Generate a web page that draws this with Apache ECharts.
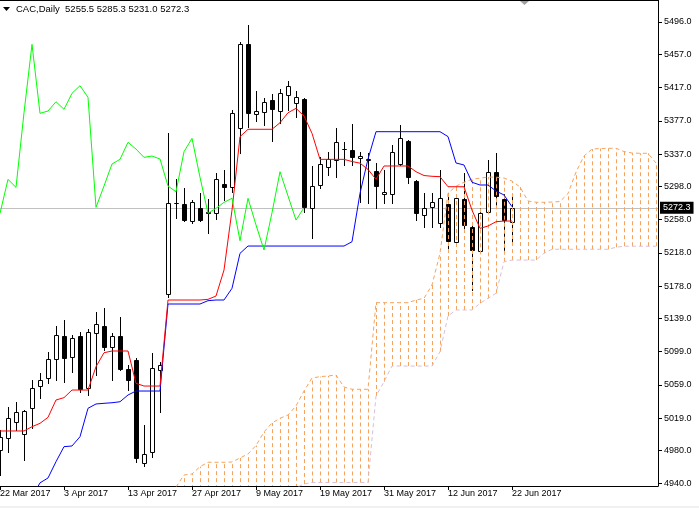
<!DOCTYPE html>
<html><head><meta charset="utf-8">
<script src="https://cdn.jsdelivr.net/npm/echarts@6/dist/echarts.min.js"></script>
<style>html,body{margin:0;padding:0;background:#fff}#c{width:699px;height:508px}</style>
</head><body><div id="c"></div>
<script>
// ---- tick labels ----
const dateLabels = ['22 Mar 2017','3 Apr 2017','13 Apr 2017','27 Apr 2017','9 May 2017','19 May 2017','31 May 2017','12 Jun 2017','22 Jun 2017'];
const dateTickBars = [0,8,16,24,32,40,48,56,64];
const priceTicks = [4940,4980,5019,5059,5099,5139,5178,5218,5258,5298,5337,5377,5417,5457,5496];

// ---- candles (bar index 0 = 22 Mar 2017) ----
const opens = [4980.6,4994.7,5014.7,4999.5,5030.8,5057.6,5066.9,5089.8,5117.6,5092.2,
5117.6,5054.9,5121.1,5129.9,5104.2,5117.9,5077.8,5089.0,4964.6,4978.5,
5076.9,5168.4,5277.6,5276.4,5256.7,5271.6,5267.6,5265.6,5300.9,5296.9,
5368.7,5469.1,5384.8,5387.2,5402.0,5388.8,5408.0,5398.0,5403.6,5271.6,
5299.7,5321.7,5329.8,5342.7,5341.8,5331.8,5330.0,5317.0,5288.5,5288.5,
5325.0,5352.9,5304.8,5263.6,5272.8,5253.6,5276.8,5230.7,5282.5,5249.5,
5220.2,5267.5,5315.7,5282.5,5255.5];
const closes = [4996.6,5018.8,5026.7,5027.5,5054.9,5064.9,5089.8,5118.8,5090.9,5115.1,
5053.7,5122.3,5132.3,5105.0,5117.9,5078.7,5064.9,4970.6,4975.4,5079.0,
5082.9,5277.6,5278.0,5257.5,5278.8,5257.5,5265.6,5306.5,5296.9,5386.7,
5469.1,5386.0,5388.8,5400.0,5390.9,5410.1,5419.3,5405.2,5272.8,5298.5,
5325.0,5330.6,5351.1,5343.0,5333.0,5334.6,5331.0,5298.5,5291.6,5339.8,
5355.9,5309.0,5265.6,5271.6,5278.8,5283.7,5232.6,5283.7,5251.6,5221.4,
5266.3,5315.7,5286.5,5257.5,5272.3];
const lows = [4950.5,4978.5,5004.7,4968.5,5006.7,5042.8,5060.9,5064.9,5062.8,5074.9,
5050.0,5046.8,5070.9,5101.0,5064.9,5077.0,5052.8,4966.5,4961.7,4971.8,
5026.7,5165.2,5259.6,5256.7,5254.0,5256.7,5241.5,5258.4,5281.6,5291.6,
5337.9,5369.9,5377.1,5372.2,5353.0,5374.0,5390.0,5382.0,5267.5,5236.2,
5296.0,5311.7,5309.7,5323.8,5323.8,5279.5,5278.0,5271.6,5277.6,5277.6,
5323.8,5302.0,5257.5,5249.5,5249.5,5249.5,5223.5,5228.6,5243.0,5173.3,
5217.8,5266.0,5273.6,5219.4,5231.0];
const highs = [5004.7,5032.7,5038.7,5028.7,5064.9,5072.9,5098.9,5129.9,5137.0,5119.0,
5123.0,5125.9,5147.1,5151.2,5121.1,5141.1,5083.0,5091.0,5010.7,5097.0,
5087.0,5361.9,5306.5,5295.7,5281.6,5290.4,5282.4,5314.5,5317.7,5390.0,
5472.3,5492.4,5413.3,5404.1,5408.9,5414.9,5424.9,5412.9,5405.0,5322.9,
5333.8,5339.8,5368.7,5351.8,5373.2,5339.5,5337.9,5325.8,5317.7,5347.9,
5371.9,5354.3,5306.0,5289.7,5289.7,5318.0,5289.7,5287.7,5313.8,5253.6,
5271.6,5329.8,5337.9,5288.9,5285.3];

// ---- Ichimoku lines ----
const tenkan = [5003.5,5003.5,5003.5,5003.5,5008.6,5012.7,5019.9,5040.8,5043.6,5052.8,
5052.8,5052.8,5080.9,5097.7,5099.8,5099.8,5099.8,5060.9,5057.6,5057.6,
5057.6,5161.2,5161.2,5161.2,5161.2,5161.2,5162.0,5166.0,5197.3,5269.4,
5357.9,5366.8,5366.8,5366.8,5366.8,5374.7,5386.7,5392.0,5382.8,5361.9,
5330.6,5330.6,5330.6,5330.6,5328.0,5326.0,5318.5,5306.5,5322.6,5322.6,
5322.6,5322.6,5315.7,5311.1,5310.2,5309.7,5297.6,5297.6,5297.6,5269.4,
5247.5,5250.3,5255.5,5256.3,5256.3];
const kijun = [null,null,null,null,4924,4941.0,4946.9,4966.5,4984.6,4985.4,
4996.6,5030.8,5036.0,5036.8,5037.5,5038.7,5046.8,5051.6,5051.6,5051.6,
5051.6,5156.4,5156.4,5156.4,5156.4,5156.4,5160.4,5161.2,5161.2,5175.3,
5217.4,5226.2,5226.2,5226.2,5226.2,5226.2,5226.2,5226.2,5226.2,5226.2,
5226.2,5226.2,5226.2,5226.2,5231.4,5289.7,5331.0,5363.9,5363.9,5363.9,
5363.9,5363.9,5363.9,5363.9,5363.9,5363.9,5358.0,5326.2,5323.8,5303.0,
5299.7,5299.7,5292.5,5287.7,5273.6];
const chikouShift = 26;
const spanStart = 22;
const spanA = [4936.0,4950.5,4951.7,4960.5,4965.8,4965.8,4965.8,4966.1,4971.0,4975.8,
4986.0,5002.3,5013.1,5018.8,5022.7,5033.6,5051.6,5067.3,5068.9,5069.7,
5070.9,5056.4,5053.7,5053.7,5053.7,5158.0,5158.0,5158.0,5158.0,5158.0,
5161.2,5163.2,5179.3,5217.4,5289.8,5298.3,5303.0,5306.7,5308.0,5309.2,
5309.2,5308.0,5304.5,5297.3,5280.4,5278.9,5278.9,5279.2,5279.8,5289.4,
5315.3,5334.6,5343.0,5343.6,5343.9,5343.9,5340.0,5338.2,5337.9,5337.9,
5326.2];
const spanB = [4925,4925,4925,4925,4925,4925,4925,4925,4925,4925,
4925,4925,4925,4925,4925,4935,4939.6,4941.5,4941.5,4941.5,
4941.5,4941.5,4941.5,4941.5,4941.5,5045.6,5062.8,5081.7,5081.7,5081.7,
5081.7,5081.7,5081.7,5099.0,5141.9,5149.2,5149.2,5149.2,5157.2,5163.2,
5169.3,5207.3,5209.3,5209.3,5209.3,5209.3,5217.5,5222.3,5222.3,5222.3,
5222.3,5222.3,5222.3,5222.3,5222.3,5224.7,5226.0,5226.0,5226.0,5226.0,
5226.0];

// ---- build ----
const last = opens.length - 1;
const candleData = opens.map((o, i) => [i, o, closes[i], lows[i], highs[i]]);
const tenkanData = tenkan.map((v, i) => [i, v]);
const kijunData = kijun.map((v, i) => [i, v]);
const chikouData = [];
for (let i = 0; i + chikouShift < closes.length; i++) chikouData.push([i, closes[i + chikouShift]]);
const spanAData = spanA.map((v, k) => [spanStart + k, v]);
const spanBData = spanB.map((v, k) => [spanStart + k, v]);
const kumoData = spanA.map((v, k) => [spanStart + k, v, spanB[k]]);

const FONT = 'Liberation Sans';

function renderCandle(params, api) {
  const i = api.value(0), o = api.value(1), c = api.value(2), l = api.value(3), h = api.value(4);
  const pO = api.coord([i, o]), pC = api.coord([i, c]), pL = api.coord([i, l]), pH = api.coord([i, h]);
  const x = Math.round(pO[0]);
  const top = Math.round(Math.min(pO[1], pC[1])), bot = Math.round(Math.max(pO[1], pC[1]));
  const bull = c >= o;
  return { type: 'group', children: [
    { type: 'line', shape: { x1: x + 0.5, y1: Math.round(pH[1]), x2: x + 0.5, y2: Math.round(pL[1]) + 1 },
      style: { stroke: '#000', lineWidth: 1 } },
    { type: 'rect', shape: { x: x - 2 + 0.5, y: top + 0.5, width: 4, height: Math.max(bot - top, 0) },
      style: { fill: bull ? '#fff' : '#000', stroke: '#000', lineWidth: 1 } }
  ]};
}
function renderKumo(params, api) {
  const i = api.value(0), a = api.value(1), b = api.value(2);
  const pA = api.coord([i, a]), pB = api.coord([i, b]);
  const x = Math.round(pA[0]) + 0.5;
  return { type: 'line', shape: { x1: x, y1: pB[1], x2: x, y2: pA[1] },
    style: { stroke: '#F4A460', lineWidth: 1, lineDash: [4, 3] } };
}

const chart = echarts.init(document.getElementById('c'));
chart.setOption({
  animation: false,
  backgroundColor: '#fff',
  title: {
    text: 'CAC,Daily  ' + [opens[last], highs[last], lows[last], closes[last]].map(v => v.toFixed(1)).join(' '),
    left: 16, top: 4, padding: 0,
    textStyle: { fontSize: 9.5, fontWeight: 'normal', color: '#000', fontFamily: FONT }
  },
  graphic: [
    { type: 'polygon', shape: { points: [[3, 7], [10, 7], [6.5, 11]] }, style: { fill: '#000' } },
    { type: 'line', shape: { x1: 0, y1: 0.5, x2: 658, y2: 0.5 }, style: { stroke: '#000', lineWidth: 1 } },
    { type: 'polygon', shape: { points: [[520, 1], [529, 1], [524.5, 5]] }, style: { fill: '#A0A0A0' } },
    { type: 'rect', shape: { x: 0, y: 506, width: 699, height: 2 }, style: { fill: '#F0F0F0' } }
  ],
  grid: { left: 0, right: 41, top: 0, bottom: 22, containLabel: false, outerBoundsMode: 'none' },
  xAxis: {
    type: 'value', min: 0, max: 82.25,
    axisLine: { show: true, onZero: false, lineStyle: { color: '#000', width: 1 } },
    axisTick: { show: true, customValues: dateTickBars, length: 4, lineStyle: { color: '#000' } },
    axisLabel: { customValues: dateTickBars, formatter: v => dateLabels[dateTickBars.indexOf(v)],
      align: 'left', margin: 3, color: '#000', fontSize: 9, fontFamily: FONT },
    splitLine: { show: false }
  },
  yAxis: {
    type: 'value', position: 'right', min: 4937.23, max: 5522.49,
    axisLine: { show: true, onZero: false, lineStyle: { color: '#000', width: 1 } },
    axisTick: { show: true, customValues: priceTicks, length: 4, lineStyle: { color: '#000' } },
    axisLabel: { customValues: priceTicks, formatter: v => v.toFixed(1), margin: 6,
      color: '#000', fontSize: 9, fontFamily: FONT },
    splitLine: { show: false }
  },
  series: [
    { type: 'custom', name: 'candles', z: 2, clip: true, renderItem: renderCandle,
      encode: { x: 0, y: [1, 2, 3, 4] }, data: candleData,
      markLine: { silent: true, z: 1, symbol: ['none', 'none'],
        lineStyle: { color: '#C0C0C0', type: 'solid', width: 1 },
        label: { show: true, position: 'end', distance: 2, formatter: () => closes[last].toFixed(1),
          backgroundColor: '#000', color: '#fff', padding: [2, 3, 1, 3], fontSize: 9, fontFamily: FONT },
        data: [{ yAxis: closes[last] }] } },
    { type: 'custom', name: 'kumo', z: 3, clip: true, renderItem: renderKumo,
      encode: { x: 0, y: [1, 2] }, data: kumoData },
    { type: 'line', name: 'spanA', z: 3, data: spanAData, symbol: 'none', clip: true,
      lineStyle: { color: '#F4A460', width: 1, type: [4, 3] } },
    { type: 'line', name: 'spanB', z: 3, data: spanBData, symbol: 'none', clip: true,
      lineStyle: { color: '#D8BFD8', width: 1, type: [4, 3] } },
    { type: 'line', name: 'kijun', z: 4, data: kijunData, symbol: 'none', clip: true, connectNulls: false,
      lineStyle: { color: '#0000FF', width: 1 } },
    { type: 'line', name: 'tenkan', z: 4, data: tenkanData, symbol: 'none', clip: true,
      lineStyle: { color: '#FF0000', width: 1 } },
    { type: 'line', name: 'chikou', z: 4, data: chikouData, symbol: 'none', clip: true,
      lineStyle: { color: '#00FF00', width: 1 } }
  ]
});
</script></body></html>
